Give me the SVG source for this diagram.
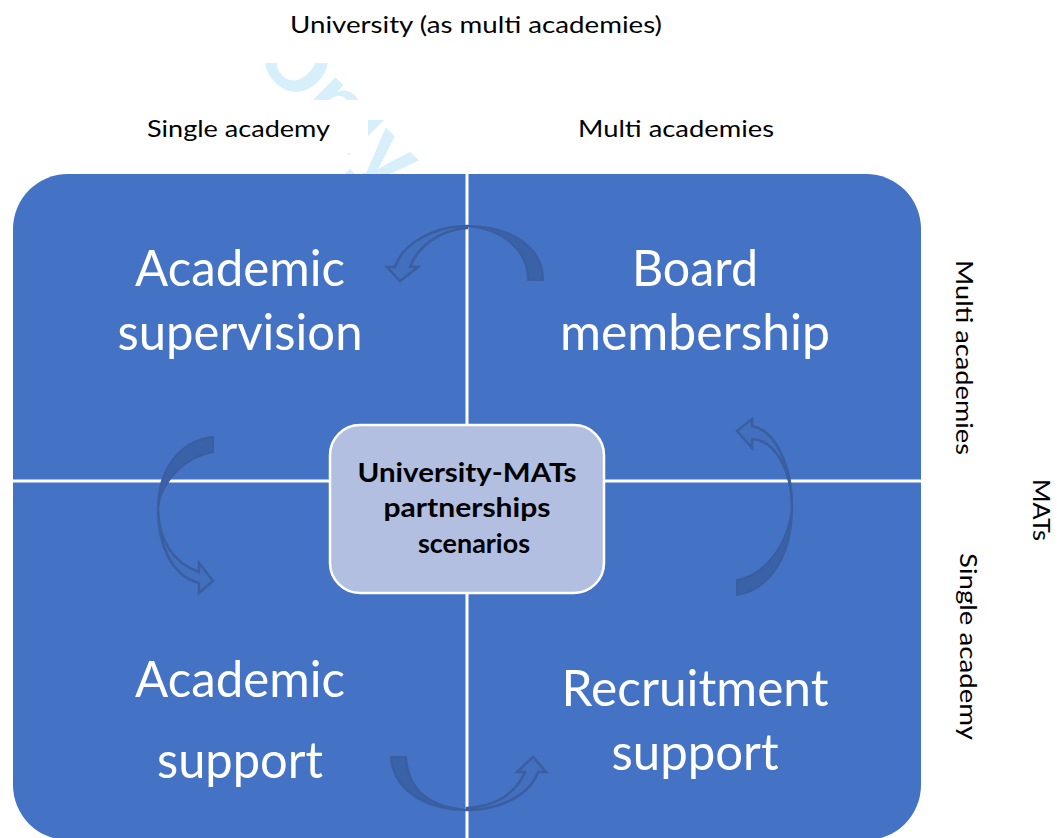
<svg xmlns="http://www.w3.org/2000/svg" width="1057" height="838" viewBox="0 0 1057 838">
<defs>
<style>
.lbl{font-family:"Lato","Liberation Sans",sans-serif;font-size:22.5px;fill:#000;}
.big{font-family:"Lato","Liberation Sans",sans-serif;font-size:50px;fill:#fff;}
.ctr{font-family:"Lato","Liberation Sans",sans-serif;font-size:27px;font-weight:bold;fill:#000;}
.band{fill:#3a62a8;stroke:#3a5e9f;stroke-width:2;stroke-linejoin:round;}
.hollow{fill:#4270bf;stroke:#3a5e9f;stroke-width:2.5;stroke-linejoin:miter;}
.sep{stroke:#fff;stroke-width:3;}
</style>
</defs>
<rect width="1057" height="838" fill="#fff"/>
<g id="watermark">
<text x="0" y="0" transform="translate(252,58) rotate(45)" font-family="Liberation Sans, sans-serif" font-weight="bold" font-size="86" fill="#d6effb">Only</text>
<rect x="180" y="0" width="600" height="63" fill="#fff"/>
<rect x="120" y="100" width="248" height="53" fill="#fff"/>
<rect x="368" y="100" width="40" height="20" fill="#fff"/>
<rect x="470" y="100" width="330" height="53" fill="#fff"/>
</g>
<g id="labels">
<text class="lbl" x="476" y="33" text-anchor="middle" textLength="372" lengthAdjust="spacingAndGlyphs">University (as multi academies)</text>
<text class="lbl" x="238.5" y="137" text-anchor="middle" textLength="183" lengthAdjust="spacingAndGlyphs">Single academy</text>
<text class="lbl" x="676" y="137" text-anchor="middle" textLength="196" lengthAdjust="spacingAndGlyphs">Multi academies</text>
<text class="lbl" transform="translate(956,357.5) rotate(90)" text-anchor="middle" textLength="195" lengthAdjust="spacingAndGlyphs">Multi academies</text>
<text class="lbl" transform="translate(1033,510) rotate(90)" text-anchor="middle" textLength="62" lengthAdjust="spacingAndGlyphs">MATs</text>
<text class="lbl" transform="translate(960,646.5) rotate(90)" text-anchor="middle" textLength="187" lengthAdjust="spacingAndGlyphs">Single academy</text>
</g>
<g id="matrix">
<rect x="13" y="174" width="908" height="666" rx="55" ry="55" fill="#4472c4"/>
<line class="sep" x1="467" y1="174" x2="467" y2="838"/>
<line class="sep" x1="13" y1="481" x2="921" y2="481"/>
</g>
<g id="q-academic-supervision">
<text class="big" x="240" y="286" text-anchor="middle" textLength="210" lengthAdjust="spacingAndGlyphs">Academic</text>
<text class="big" x="240" y="350" text-anchor="middle" textLength="245" lengthAdjust="spacingAndGlyphs">supervision</text>
</g>
<g id="q-board-membership">
<text class="big" x="695" y="286" text-anchor="middle" textLength="126" lengthAdjust="spacingAndGlyphs">Board</text>
<text class="big" x="695" y="350" text-anchor="middle" textLength="270" lengthAdjust="spacingAndGlyphs">membership</text>
</g>
<g id="q-academic-support">
<text class="big" x="240" y="697" text-anchor="middle" textLength="210" lengthAdjust="spacingAndGlyphs">Academic</text>
<text class="big" x="240" y="778" text-anchor="middle" textLength="166" lengthAdjust="spacingAndGlyphs">support</text>
</g>
<g id="q-recruitment-support">
<text class="big" x="695" y="706" text-anchor="middle" textLength="267" lengthAdjust="spacingAndGlyphs">Recruitment</text>
<text class="big" x="695" y="770" text-anchor="middle" textLength="167" lengthAdjust="spacingAndGlyphs">support</text>
</g>
<g id="connectors">
<path class="band" d="M543,280 C543,246 510,226 467,226 C503,229 528,250 528,280 Z"/>
<path class="hollow" d="M467,226 C432,226 402,245 395,267 L387,267 L400,281 L418,267 L410,267 C418,246 440,230 467,228 Z"/>
<path class="band" d="M213,437 C180,440 158,470 158,508 C161,481 186,456 213,452 Z"/>
<path class="hollow" d="M158,508 C158,541 175,564 199,572 L199,563 L213,581 L199,593 L199,583 C172,576 158,546 158,508 Z"/>
<path class="band" d="M792,508 C792,555 770,590 737,595 L737,580 C765,575 788,545 792,508 Z"/>
<path class="hollow" d="M792,508 C792,470 775,440 752,439 L752,448 L737,431 L752,419 L752,426 C775,430 792,465 792,508 Z"/>
<path class="band" d="M391,757 C393,790 425,810 467,810 C430,807 408,790 406,757 Z"/>
<path class="hollow" d="M467,810 C500,810 530,795 538,772 L546,772 L533,757 L517,772 L525,772 C515,795 495,806 467,808 Z"/>
</g>
<g id="center">
<rect x="330" y="425" width="274" height="168" rx="30" ry="30" fill="#b2bfe1" stroke="#fff" stroke-width="2.5"/>
<text class="ctr" x="467" y="482" text-anchor="middle" textLength="219" lengthAdjust="spacingAndGlyphs">University-MATs</text>
<text class="ctr" x="467" y="517" text-anchor="middle" textLength="167" lengthAdjust="spacingAndGlyphs">partnerships</text>
<text class="ctr" x="474" y="553" text-anchor="middle" textLength="112" lengthAdjust="spacingAndGlyphs">scenarios</text>
</g>
</svg>
